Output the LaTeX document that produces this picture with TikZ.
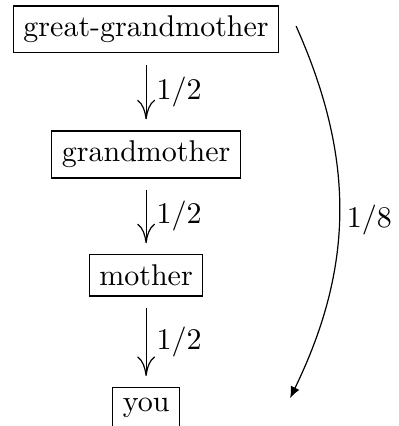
\documentclass[tikz,border=0pt]{standalone}
\usetikzlibrary{arrows.meta}
\begin{document}
\begin{tikzpicture}[x=1pt, y=1pt,
    box/.style={draw, inner sep=3.33pt},
    down/.style={-{Computer Modern Rightarrow[length=6.5pt,width=6pt]},
        shorten <=3.7pt, shorten >=3.7pt},
    share/.style={right}]
    \useasboundingbox (0,0) rectangle (132.7,-142);
    % Explicit Coordinates: one column at x=48.7
    \node[box] (GG) at (48.7,-9.8)   {great-grandmother};
    \node[box] (GM) at (48.7,-51.5)  {grandmother};
    \node[box] (M)  at (48.7,-91.8)  {mother};
    \node[box] (Y)  at (48.7,-135.8) {you};
    \coordinate (Cs) at (98.7,-8.7);   % start of long arrow
    \coordinate (Ce) at (96.7,-132.7); % tip of long arrow

    \draw[down] (GG) -- node[share] {$1/2$} (GM);
    \draw[down] (GM) -- node[share] {$1/2$} (M);
    \draw[down] (M)  -- node[share] {$1/2$} (Y);
    \draw[-{Latex[length=3.8pt,width=3.2pt]}] (Cs) to[bend left=25]
        node[share, pos=0.52, inner sep=2.4pt] {$1/8$} (Ce);
\end{tikzpicture}
\end{document}
